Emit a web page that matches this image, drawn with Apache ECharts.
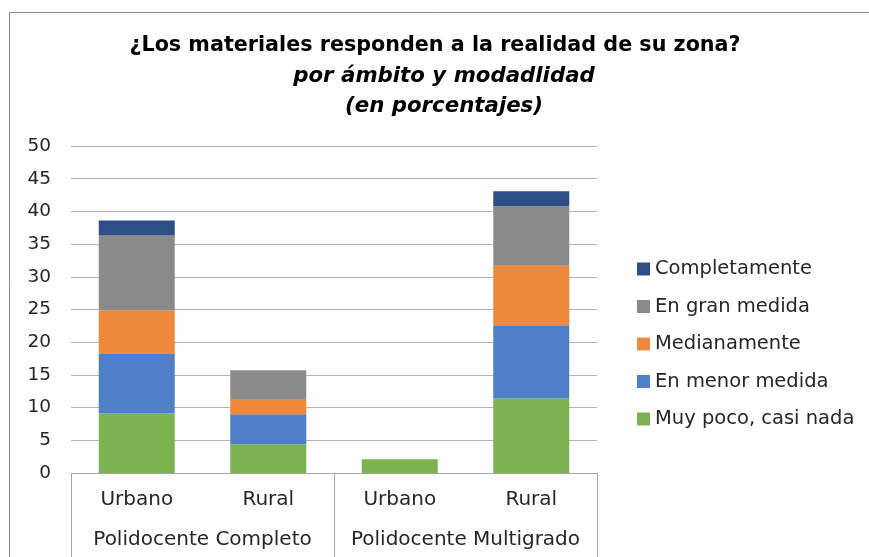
<!DOCTYPE html>
<html>
<head>
<meta charset="utf-8">
<script src="https://cdn.jsdelivr.net/npm/echarts@6/dist/echarts.min.js"></script>
<style>html,body{margin:0;padding:0;background:#fff}#c{width:869px;height:557px}</style>
</head>
<body>
<div id="c"></div>
<script>
const categories = ['Urbano', 'Rural', 'Urbano', 'Rural'];
const groups = ['Polidocente Completo', 'Polidocente Multigrado'];
const seriesNames = ['Muy poco, casi nada', 'En menor medida', 'Medianamente', 'En gran medida', 'Completamente'];
const muyPoco = [9.1, 4.4, 2.1, 11.4];
const enMenor = [9.1, 4.6, 0, 11.2];
const mediana = [6.7, 2.3, 0, 9.1];
const enGran = [11.4, 4.4, 0, 9.1];
const complet = [2.3, 0, 0, 2.3];
const yTicks = [0, 50, 5];
const titleText = '¿Los materiales responden a la realidad de su zona?';
const subText1 = 'por ámbito y modadlidad';
const subText2 = '(en porcentajes)';

const colors = ['#7cb350', '#4f7fc9', '#ee883a', '#8a8a8a', '#2e4f86'];
const values = [muyPoco, enMenor, mediana, enGran, complet];
const FONT = 'DejaVu Sans';
const txt = '#262626';

const chart = echarts.init(document.getElementById('c'));
chart.setOption({
  animation: false,
  textStyle: { fontFamily: FONT },
  graphic: [
    { type: 'line', shape: { x1: 9.5, y1: 12.5, x2: 869, y2: 12.5 }, style: { stroke: '#8c8c8c', lineWidth: 1 } },
    { type: 'line', shape: { x1: 9.5, y1: 12.5, x2: 9.5, y2: 557 }, style: { stroke: '#8c8c8c', lineWidth: 1 } },
    { type: 'text', style: { x: 435, y: 46, text: titleText, textAlign: 'center', textVerticalAlign: 'middle', font: 'bold 20.7px "DejaVu Sans"', fill: '#000' } },
    { type: 'text', style: { x: 444, y: 76, text: subText1, textAlign: 'center', textVerticalAlign: 'middle', font: 'italic bold 21.3px "DejaVu Sans"', fill: '#000' } },
    { type: 'text', style: { x: 444, y: 106, text: subText2, textAlign: 'center', textVerticalAlign: 'middle', font: 'italic bold 21.3px "DejaVu Sans"', fill: '#000' } }
  ],
  legend: {
    orient: 'vertical',
    left: 632,
    top: 254,
    itemWidth: 13,
    itemHeight: 13,
    itemGap: 17.5,
    icon: 'rect',
    data: seriesNames.slice().reverse(),
    textStyle: { fontFamily: FONT, fontSize: 19.5, color: txt }
  },
  grid: { left: 71, right: 272, top: 146, bottom: 84 },
  xAxis: [
    {
      type: 'category',
      data: categories,
      axisLine: { lineStyle: { color: '#a6a6a6', width: 1 } },
      axisTick: { show: false },
      axisLabel: { interval: 0, fontFamily: FONT, fontSize: 20, color: txt, margin: 17 }
    },
    {
      type: 'category',
      data: groups,
      position: 'bottom',
      axisLine: { show: false },
      axisTick: { show: true, interval: 0, length: 84, lineStyle: { color: '#a6a6a6', width: 1 } },
      axisLabel: { interval: 0, hideOverlap: false, fontFamily: FONT, fontSize: 20, color: txt, margin: 57 }
    }
  ],
  yAxis: {
    type: 'value',
    min: yTicks[0],
    max: yTicks[1],
    interval: yTicks[2],
    axisLine: { show: false },
    axisTick: { show: false },
    axisLabel: { fontFamily: FONT, fontSize: 18.5, color: txt, margin: 20 },
    splitLine: { lineStyle: { color: '#b4b4b4', width: 1 } }
  },
  series: seriesNames.map((n, i) => ({
    name: n,
    type: 'bar',
    stack: 'total',
    xAxisIndex: 0,
    barWidth: 76,
    data: values[i],
    itemStyle: { color: colors[i] }
  }))
});
</script>
</body>
</html>
